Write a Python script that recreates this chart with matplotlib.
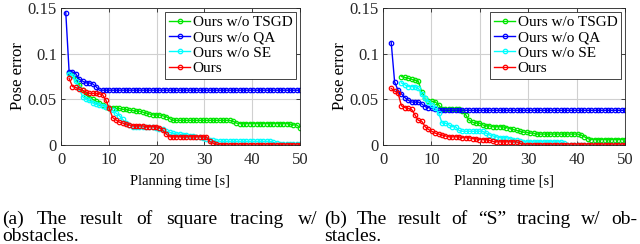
import numpy as np
import matplotlib
matplotlib.use('Agg')
import matplotlib.pyplot as plt

plt.rcParams['font.family'] = 'serif'
plt.rcParams['font.serif'] = ['Liberation Serif', 'DejaVu Serif']

# planning time grid [s]
t = np.arange(71) * 0.7 + 1.0
nan = np.nan

labels = ['Ours w/o TSGD', 'Ours w/o QA', 'Ours w/o SE', 'Ours']
colors = [(0, 0.9, 0), (0, 0, 1), (0, 1, 1), (1, 0, 0)]

# (a) square tracing
green_a = [nan, 0.079, 0.077, 0.072, 0.066, 0.060, 0.055, 0.052, 0.050, 0.048,
           0.046, 0.044, 0.042, 0.041, 0.041, 0.040, 0.040, 0.039, 0.039, 0.038,
           0.038, 0.037, 0.037, 0.036, 0.035, 0.034, 0.033, 0.033, 0.033, 0.032,
           0.031, 0.029, 0.027, 0.027, 0.027, 0.027, 0.027, 0.027, 0.027, 0.027,
           0.027, 0.027, 0.027, 0.027, 0.027, 0.027, 0.027, 0.027, 0.027, 0.027,
           0.026, 0.024, 0.0235, 0.0235, 0.0235, 0.0235, 0.0235, 0.0235, 0.0235, 0.0235,
           0.0235, 0.0235, 0.0235, 0.0235, 0.0235, 0.0235, 0.0235, 0.023, 0.022, 0.022,
           0.019]
blue_a = [0.145, 0.080, 0.080, 0.078, 0.072, 0.070, 0.068, 0.068, 0.067, 0.064,
          0.060, 0.060, 0.060, 0.060, 0.060, 0.060, 0.060, 0.060, 0.060, 0.060,
          0.060, 0.060, 0.060, 0.060, 0.060, 0.060, 0.060, 0.060, 0.060, 0.060,
          0.060, 0.060, 0.060, 0.060, 0.060, 0.060, 0.060, 0.060, 0.060, 0.060,
          0.060, 0.060, 0.060, 0.060, 0.060, 0.060, 0.060, 0.060, 0.060, 0.060,
          0.060, 0.060, 0.060, 0.060, 0.060, 0.060, 0.060, 0.060, 0.060, 0.060,
          0.060, 0.060, 0.060, 0.060, 0.060, 0.060, 0.060, 0.060, 0.060, 0.060,
          0.060]
cyan_a = [nan, 0.078, 0.076, 0.070, 0.062, 0.053, 0.050, 0.049, 0.046, 0.045,
          0.044, 0.043, 0.042, 0.040, 0.038, 0.035, 0.032, 0.028, 0.024, 0.022,
          0.020, 0.020, 0.020, 0.020, 0.020, 0.020, 0.020, 0.019, 0.018, 0.017,
          0.015, 0.014, 0.013, 0.012, 0.012, 0.011, 0.011, 0.010, 0.010, 0.009,
          0.009, 0.008, 0.007, 0.006, 0.005, 0.004, 0.004, 0.004, 0.004, 0.004,
          0.004, 0.004, 0.004, 0.004, 0.004, 0.004, 0.004, 0.004, 0.004, 0.004,
          0.004, 0.004, 0.003, 0.002, 0.001, 0.001, 0.001, 0.001, 0.001, 0.001,
          0.001]
red_a = [nan, 0.073, 0.064, 0.063, 0.061, 0.060, 0.058, 0.0565, 0.0565, 0.0565,
         0.056, 0.055, 0.049, 0.040, 0.030, 0.0275, 0.025, 0.024, 0.023, 0.022,
         0.021, 0.021, 0.021, 0.021, 0.020, 0.020, 0.020, 0.020, 0.019, 0.016,
         0.012, 0.009, 0.009, 0.009, 0.009, 0.009, 0.009, 0.009, 0.009, 0.009,
         0.009, 0.009, 0.009, 0.004, 0.002, 0.001, 0.0, 0.0, 0.0, 0.0,
         0.0, 0.0, 0.0, 0.0, 0.0, 0.0, 0.0, 0.0, 0.0, 0.0,
         0.0, 0.0, 0.0, 0.0, 0.0, 0.0, 0.0, 0.0, 0.0, 0.0,
         0.0]

# (b) "S" tracing
green_b = [nan, nan, nan, nan, 0.075, 0.074, 0.073, 0.072, 0.071, 0.070,
           0.058, 0.051, 0.048, 0.048, 0.047, 0.044, 0.039, 0.039, 0.039, 0.039,
           0.039, 0.039, 0.037, 0.033, 0.027, 0.025, 0.024, 0.024, 0.022, 0.021,
           0.021, 0.020, 0.020, 0.020, 0.020, 0.019, 0.018, 0.017, 0.016, 0.015,
           0.014, 0.014, 0.013, 0.013, 0.012, 0.012, 0.012, 0.012, 0.012, 0.012,
           0.012, 0.012, 0.012, 0.012, 0.012, 0.012, 0.012, 0.011, 0.009, 0.007,
           0.006, 0.006, 0.006, 0.006, 0.006, 0.006, 0.006, 0.006, 0.006, 0.006,
           0.006]
blue_b = [nan, 0.112, 0.069, 0.060, 0.056, 0.052, 0.049, 0.047, 0.047, 0.047,
          0.045, 0.042, 0.041, 0.040, 0.039, 0.038, 0.038, 0.038, 0.038, 0.038,
          0.038, 0.038, 0.038, 0.038, 0.038, 0.038, 0.038, 0.038, 0.038, 0.038,
          0.038, 0.038, 0.038, 0.038, 0.038, 0.038, 0.038, 0.038, 0.038, 0.038,
          0.038, 0.038, 0.038, 0.038, 0.038, 0.038, 0.038, 0.038, 0.038, 0.038,
          0.038, 0.038, 0.038, 0.038, 0.038, 0.038, 0.038, 0.038, 0.038, 0.038,
          0.038, 0.038, 0.038, 0.038, 0.038, 0.038, 0.038, 0.038, 0.038, 0.038,
          0.038]
cyan_b = [nan, nan, nan, nan, 0.068, 0.066, 0.064, 0.064, 0.064, 0.062,
          0.056, 0.051, 0.047, 0.044, 0.040, 0.035, 0.024, 0.024, 0.022, 0.020,
          0.020, 0.016, 0.015, 0.015, 0.015, 0.015, 0.015, 0.015, 0.015, 0.013,
          0.011, 0.010, 0.009, 0.008, 0.008, 0.008, 0.007, 0.006, 0.005, 0.004,
          0.0035, 0.0035, 0.0035, 0.0035, 0.0035, 0.0035, 0.0035, 0.0035, 0.0035, 0.0035,
          0.0035, 0.0035, 0.002, 0.0, 0.0, 0.0, 0.0, 0.0, 0.0, 0.0,
          0.0, 0.0, 0.0, 0.0, 0.0, 0.0, 0.0, 0.0, 0.0, 0.0,
          0.0]
red_b = [nan, 0.062, 0.059, 0.057, 0.043, 0.041, 0.040, 0.039, 0.033, 0.027,
         0.026, 0.020, 0.017, 0.015, 0.013, 0.012, 0.011, 0.010, 0.009, 0.009,
         0.009, 0.009, 0.008, 0.008, 0.008, 0.007, 0.007, 0.006, 0.006, 0.006,
         0.005, 0.004, 0.0035, 0.0035, 0.0035, 0.0035, 0.0035, 0.0035, 0.0035, 0.002,
         0.0, 0.0, 0.0, 0.0, 0.0, 0.0, 0.0, 0.0, 0.0, 0.0,
         0.0, 0.0, 0.0, 0.0, 0.0, 0.0, 0.0, 0.0, 0.0, 0.0,
         0.0, 0.0, 0.0, 0.0, 0.0, 0.0, 0.0, 0.0, 0.0, 0.0,
         0.0]

series_a = [green_a, blue_a, cyan_a, red_a]
series_b = [green_b, blue_b, cyan_b, red_b]

caption_a = ['(a) The result of square tracing w/', 'obstacles.']
caption_b = ['(b) The result of \u201cS\u201d tracing w/ ob-', 'stacles.']

W, H = 640, 244
fig = plt.figure(figsize=(6.4, 2.44), dpi=100)

def draw_panel(rect, series):
    ax = fig.add_axes(rect)
    for ys, c, lab in zip(series, colors, labels):
        ax.plot(t, ys, '-o', color=c, lw=1.0, ms=3.2, mfc='none', mew=0.9, label=lab)
    ax.set_xlim(0, 50)
    ax.set_ylim(0, 0.15)
    ax.set_xticks([0, 10, 20, 30, 40, 50])
    ax.set_yticks([0, 0.05, 0.1, 0.15])
    ax.set_yticklabels(['0', '0.05', '0.1', '0.15'])
    ax.grid(True, color='#d0d0d0', lw=0.8)
    ax.set_axisbelow(True)
    ax.tick_params(direction='in', length=3, width=0.6, top=True, right=True,
                   labelsize=12, colors='#262626', pad=3)
    ax.tick_params(axis='x', pad=5)
    for sp in ax.spines.values():
        sp.set_color('#262626')
        sp.set_linewidth(0.6)
    ax.set_xlabel('Planning time [s]', fontsize=10.5, labelpad=5)
    ax.set_ylabel('Pose error', fontsize=12, labelpad=1)
    leg = ax.legend(loc='upper right', fontsize=11, numpoints=1, handlelength=1.4,
                    handletextpad=0.15, borderpad=0.25, labelspacing=0.1,
                    fancybox=False, framealpha=1, borderaxespad=0.25)
    leg.get_frame().set_edgecolor('#262626')
    leg.get_frame().set_linewidth(0.6)
    return ax

ax1 = draw_panel([61 / W, 1 - 145 / H, 239 / W, 137 / H], series_a)
ax2 = draw_panel([383 / W, 1 - 145 / H, 242 / W, 137 / H], series_b)

# justified captions
def justify(line, x0, x1, y, fs):
    words = line.split(' ')
    texts = [fig.text(0, y, w, fontsize=fs, va='baseline') for w in words]
    fig.canvas.draw()
    r = fig.canvas.get_renderer()
    widths = [tx.get_window_extent(r).width for tx in texts]
    gap = ((x1 - x0) - sum(widths)) / (len(words) - 1)
    pos = x0
    for tx, w in zip(texts, widths):
        tx.set_x(pos / W)
        pos += w + gap

cap_fs = 14
justify(caption_a[0], 2, 317, 1 - 224 / H, cap_fs)
fig.text(2 / W, 1 - 241 / H, caption_a[1], fontsize=cap_fs, va='baseline')
justify(caption_b[0], 324, 637, 1 - 224 / H, cap_fs)
fig.text(324 / W, 1 - 241 / H, caption_b[1], fontsize=cap_fs, va='baseline')

fig.savefig('out.png', dpi=100)
